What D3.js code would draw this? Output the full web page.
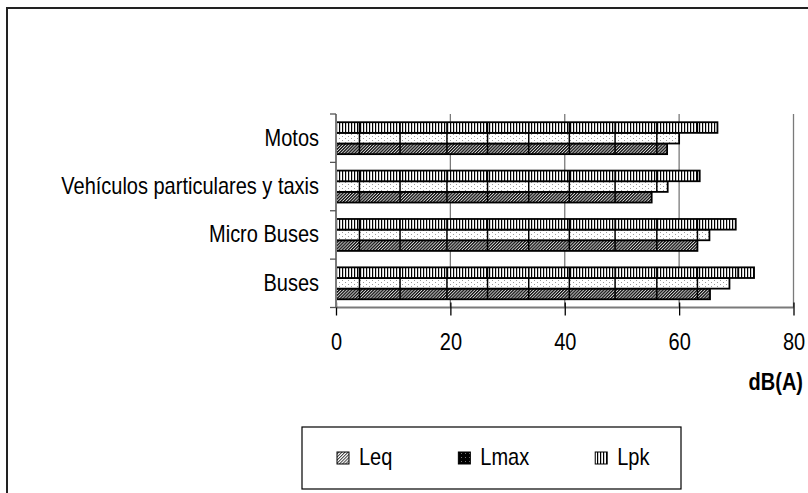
<!DOCTYPE html>
<html>
<head>
<meta charset="utf-8">
<script src="https://cdn.jsdelivr.net/npm/d3@7"></script>
<style>
  html, body { margin: 0; padding: 0; background: #fff; }
  svg { display: block; font-family: "Liberation Sans", Arial, sans-serif; }
</style>
</head>
<body>
<svg id="chart" width="808" height="493"></svg>
<script>
// Vehicle noise levels, dB(A)
const categories = ["Motos", "Vehículos particulares y taxis", "Micro Buses", "Buses"];
const seriesNames = ["Leq", "Lmax", "Lpk"];
const leq  = [57.9, 55.2, 63.2, 65.4];
const lmax = [60.0, 58.0, 65.3, 68.8];
const lpk  = [66.7, 63.6, 69.9, 73.1];
const xTicks = [0, 20, 40, 60, 80];
const xTitle = "dB(A)";
// dB positions of the segment seams that run across every bar
const segmentMarks = [4.1, 11.2, 19.4, 26.5, 33.7, 40.8, 48.8, 56.1, 63.2, 70.3];

const valuesBySeries = { Leq: leq, Lmax: lmax, Lpk: lpk };
const rows = [];
categories.forEach((c, i) => {
  seriesNames.forEach(s => rows.push({ category: c, series: s, value: valuesBySeries[s][i] }));
});

const svg = d3.select("#chart");
const STRETCH = 1.17; // text is drawn slightly taller than wide

function placeText(sel, x, y) {
  sel.attr("x", 0).attr("y", 0)
     .attr("transform", `translate(${x},${y}) scale(1,${STRETCH})`);
  return sel;
}

// ----- patterns -----
const defs = svg.append("defs");

const pLpk = defs.append("pattern").attr("id", "pat-lpk")
  .attr("patternUnits", "userSpaceOnUse").attr("width", 3).attr("height", 3);
pLpk.append("rect").attr("width", 3).attr("height", 3).attr("fill", "#fff");
pLpk.append("rect").attr("width", 1.2).attr("height", 3).attr("fill", "#000");

const pLmax = defs.append("pattern").attr("id", "pat-lmax")
  .attr("patternUnits", "userSpaceOnUse").attr("width", 6).attr("height", 4);
pLmax.append("rect").attr("width", 6).attr("height", 4).attr("fill", "#fff");
pLmax.append("rect").attr("x", 0).attr("y", 0).attr("width", 1).attr("height", 1).attr("fill", "#9a9a9a");
pLmax.append("rect").attr("x", 3).attr("y", 2).attr("width", 1).attr("height", 1).attr("fill", "#9a9a9a");

// fine dark diagonal hatch
const pLeq = defs.append("pattern").attr("id", "pat-leq")
  .attr("patternUnits", "userSpaceOnUse").attr("width", 2.2).attr("height", 2.2)
  .attr("patternTransform", "rotate(45)");
pLeq.append("rect").attr("width", 2.2).attr("height", 2.2).attr("fill", "#d8d8d8");
pLeq.append("rect").attr("width", 1.3).attr("height", 2.2).attr("fill", "#111");

// legend variant of the Leq fill (lighter hatch)
const pLeqKey = defs.append("pattern").attr("id", "pat-leq-key")
  .attr("patternUnits", "userSpaceOnUse").attr("width", 2.2).attr("height", 2.2)
  .attr("patternTransform", "rotate(45)");
pLeqKey.append("rect").attr("width", 2.2).attr("height", 2.2).attr("fill", "#fff");
pLeqKey.append("rect").attr("width", 1).attr("height", 2.2).attr("fill", "#444");

// legend variant of the Lmax fill (dark with light dots)
const pLmaxKey = defs.append("pattern").attr("id", "pat-lmax-key")
  .attr("patternUnits", "userSpaceOnUse").attr("width", 4).attr("height", 4);
pLmaxKey.append("rect").attr("width", 4).attr("height", 4).attr("fill", "#000");
pLmaxKey.append("rect").attr("x", 1).attr("y", 1).attr("width", 1).attr("height", 1).attr("fill", "#777");

const fills = { Leq: "url(#pat-leq)", Lmax: "url(#pat-lmax)", Lpk: "url(#pat-lpk)" };
const keyFills = { Leq: "url(#pat-leq-key)", Lmax: "url(#pat-lmax-key)", Lpk: "url(#pat-lpk)" };

// ----- outer frame -----
svg.append("rect")
  .attr("x", 7).attr("y", 8).attr("width", 830).attr("height", 520)
  .attr("fill", "#fff").attr("stroke", "#222").attr("stroke-width", 2);

// ----- scales -----
const x = d3.scaleLinear().domain([0, 80]).range([336, 793.5]);
const y = d3.scaleBand().domain(categories).range([114, 307.5])
  .paddingInner(0.34).paddingOuter(0.17);
const ySub = d3.scaleBand().domain(["Lpk", "Lmax", "Leq"]).range([0, y.bandwidth()]);

const plotTop = 114, plotBottom = 307.5;

// ----- gridlines -----
svg.append("g").selectAll("line")
  .data(xTicks.filter(t => t > 0))
  .join("line")
  .attr("x1", d => x(d)).attr("x2", d => x(d))
  .attr("y1", plotTop).attr("y2", plotBottom)
  .attr("stroke", "#7a7a7a").attr("stroke-width", 1.3);

// ----- bars -----
const barG = svg.append("g");
barG.selectAll("rect")
  .data(rows)
  .join("rect")
  .attr("x", x(0))
  .attr("y", d => y(d.category) + ySub(d.series))
  .attr("width", d => x(d.value) - x(0))
  .attr("height", ySub.bandwidth())
  .attr("fill", d => fills[d.series])
  .attr("stroke", "#000").attr("stroke-width", 1.8);

// seams across the bars
rows.forEach(d => {
  const y0 = y(d.category) + ySub(d.series);
  barG.append("g").selectAll("line")
    .data(segmentMarks.filter(m => m < d.value - 0.3))
    .join("line")
    .attr("x1", m => x(m)).attr("x2", m => x(m))
    .attr("y1", y0).attr("y2", y0 + ySub.bandwidth())
    .attr("stroke", "#000").attr("stroke-width", 1.5);
});

// ----- x axis -----
const xAxis = svg.append("g")
  .attr("transform", `translate(0,${plotBottom})`)
  .call(d3.axisBottom(x).tickValues(xTicks).tickSizeInner(8).tickSizeOuter(0).tickFormat(d3.format("d")));
xAxis.select(".domain").attr("stroke", "#7a7a7a").attr("stroke-width", 2)
  .attr("d", `M${x(0)},0H${x(80)}`);
xAxis.selectAll(".tick line").attr("stroke", "#000").attr("stroke-width", 1.3).attr("y1", -5);
xAxis.selectAll(".tick text")
  .attr("font-size", 20).attr("fill", "#000").attr("dy", null)
  .each(function () { placeText(d3.select(this), 0, 42.5); });

// ----- y axis -----
const bounds = d3.range(categories.length + 1).map(i => plotTop + i * (plotBottom - plotTop) / categories.length);
svg.append("line")
  .attr("x1", x(0)).attr("x2", x(0)).attr("y1", plotTop).attr("y2", plotBottom)
  .attr("stroke", "#7a7a7a").attr("stroke-width", 2);
svg.append("g").selectAll("line")
  .data(bounds)
  .join("line")
  .attr("x1", x(0) - 6).attr("x2", x(0))
  .attr("y1", d => d).attr("y2", d => d)
  .attr("stroke", "#555").attr("stroke-width", 1.3);

svg.append("g").selectAll("text")
  .data(categories)
  .join("text")
  .attr("text-anchor", "end")
  .attr("font-size", 20)
  .attr("fill", "#000")
  .text(d => d)
  .each(function (d) {
    placeText(d3.select(this), x(0) - 17, y(d) + y.bandwidth() / 2 + 7.5);
  });

// axis title
placeText(svg.append("text")
  .attr("text-anchor", "end")
  .attr("font-size", 20)
  .attr("font-weight", "bold")
  .attr("fill", "#000")
  .text(xTitle), 803, 390);

// ----- legend -----
const legendBox = { x: 302, y: 427, w: 379, h: 62 };
svg.append("rect")
  .attr("x", legendBox.x).attr("y", legendBox.y)
  .attr("width", legendBox.w).attr("height", legendBox.h)
  .attr("fill", "#fff").attr("stroke", "#000").attr("stroke-width", 1.2);

let lx = 337;
seriesNames.forEach(s => {
  svg.append("rect")
    .attr("x", lx).attr("y", 452).attr("width", 12).attr("height", 12)
    .attr("fill", keyFills[s]).attr("stroke", "#000").attr("stroke-width", 1);
  const t = svg.append("text")
    .attr("font-size", 20).attr("fill", "#000").text(s);
  placeText(t, lx + 22, 465);
  lx += 22 + t.node().getComputedTextLength() + 66;
});
</script>
</body>
</html>
